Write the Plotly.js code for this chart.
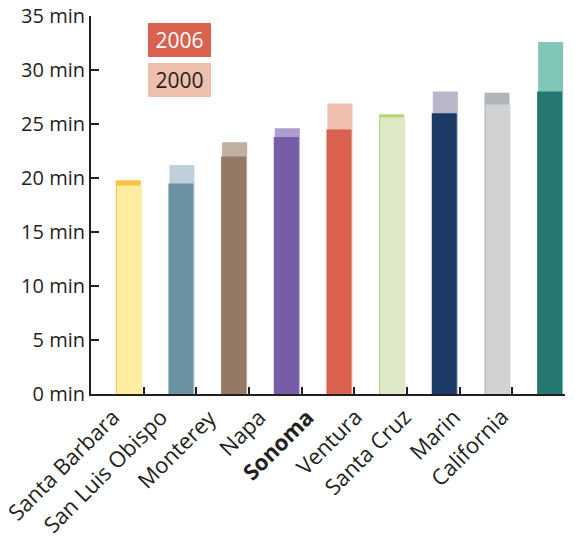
<!DOCTYPE html>
<html>
<head>
<meta charset="utf-8">
<script src="https://cdn.plot.ly/plotly-3.0.1.min.js"></script>
<style>
  html, body { margin: 0; padding: 0; background: #ffffff; }
  #chart { width: 575px; height: 541px; }
</style>
</head>
<body>
<div id="chart"></div>
<script>
// Data (mean commute time, minutes)
const categories = ["Santa Barbara", "San Luis Obispo", "Monterey", "Napa", "Sonoma", "Ventura", "Santa Cruz", "Marin", "California"];
const tickLabels = ["Santa Barbara", "San Luis Obispo", "Monterey", "Napa", "<b>Sonoma</b>", "Ventura", "Santa Cruz", "Marin", "California"];
const commute2006 = [19.8, 19.5, 22.0, 23.8, 24.5, 25.9, 26.0, 27.9, 28.0];
const commute2000 = [19.3, 21.2, 23.3, 24.6, 26.9, 25.6, 28.0, 26.8, 32.6];
const colors2006 = ["#fcc244", "#6b92a2", "#937966", "#775ca8", "#d9614e", "#b9d675", "#1b3a67", "#b2b5b7", "#247870"];
const colors2000 = ["#feeca0", "#bfd0da", "#c1b0a2", "#ac9dce", "#efbfae", "#dde9c7", "#b8b7c9", "#d0d2d4", "#82c6b8"];
const yTickVals = [0, 5, 10, 15, 20, 25, 30, 35];
const yTickText = yTickVals.map(v => v + " min");

// Taller bar drawn behind, shorter in front
const OFF_2006 = -0.03, OFF_2000 = -0.01, BAR_W = 0.475;
const back = {y: [], color: [], offset: []};
const front = {y: [], color: [], offset: []};
categories.forEach((c, i) => {
  const a = {y: commute2006[i], color: colors2006[i], offset: OFF_2006};
  const b = {y: commute2000[i], color: colors2000[i], offset: OFF_2000};
  const tall = a.y >= b.y ? a : b;
  const short = a.y >= b.y ? b : a;
  back.y.push(tall.y); back.color.push(tall.color); back.offset.push(tall.offset);
  front.y.push(short.y); front.color.push(short.color); front.offset.push(short.offset);
});

const mk = (d) => ({
  type: "bar",
  x: categories,
  y: d.y,
  offset: d.offset,
  width: categories.map(() => BAR_W),
  marker: {color: d.color, line: {width: 0}},
  hoverinfo: "skip",
  showlegend: false
});

const axisColor = "#231f20";
const font = "'Open Sans', 'Noto Sans', sans-serif";

const L = 91, R = 10, T = 16, B = 147;
const plotW = 575 - L - R, plotH = 541 - T - B;
const px2x = px => (px - L) / plotW;
const py2y = py => (541 - B - py) / plotH;

// Rotated category labels (placed as annotations)
const LABEL_X0 = 128, LABEL_DX = 48.6, LABEL_Y = 399;
const labelAnnotations = tickLabels.map((t, i) => ({
  xref: "paper", yref: "paper",
  x: px2x(LABEL_X0 + LABEL_DX * i), y: py2y(LABEL_Y),
  xanchor: "right", yanchor: "top",
  text: t, textangle: -45, showarrow: false,
  font: {size: 22, family: font, color: axisColor}
}));

const layout = {
  width: 575,
  height: 541,
  margin: {l: L, r: R, t: T, b: B},
  paper_bgcolor: "#ffffff",
  plot_bgcolor: "#ffffff",
  barmode: "overlay",
  hovermode: false,
  font: {family: font, color: axisColor},
  xaxis: {
    type: "category",
    tickson: "boundaries",
    range: [-0.5, 8.5],
    ticks: "inside",
    ticklen: 7,
    tickwidth: 2,
    tickcolor: axisColor,
    showticklabels: false,
    showline: true,
    linewidth: 2,
    linecolor: axisColor,
    showgrid: false,
    zeroline: false
  },
  yaxis: {
    range: [0, 35],
    tickmode: "array",
    tickvals: yTickVals,
    ticktext: yTickText,
    ticks: "inside",
    ticklen: 8,
    tickwidth: 2,
    tickcolor: axisColor,
    showline: true,
    linewidth: 2,
    linecolor: axisColor,
    showgrid: false,
    zeroline: false,
    tickfont: {size: 20, family: font, color: axisColor}
  },
  annotations: [
    {
      xref: "paper", yref: "paper",
      x: px2x(179.5), y: py2y(40),
      xanchor: "center", yanchor: "middle",
      text: "2006", showarrow: false,
      bgcolor: colors2006[4], width: 63, height: 34,
      borderpad: 0, borderwidth: 0,
      font: {size: 21, family: font, color: "#ffffff"}
    },
    {
      xref: "paper", yref: "paper",
      x: px2x(179.5), y: py2y(80),
      xanchor: "center", yanchor: "middle",
      text: "2000", showarrow: false,
      bgcolor: colors2000[4], width: 63, height: 34,
      borderpad: 0, borderwidth: 0,
      font: {size: 21, family: font, color: axisColor}
    }
  ].concat(labelAnnotations)
};

Plotly.newPlot("chart", [mk(back), mk(front)], layout, {displayModeBar: false, staticPlot: true});
</script>
</body>
</html>
